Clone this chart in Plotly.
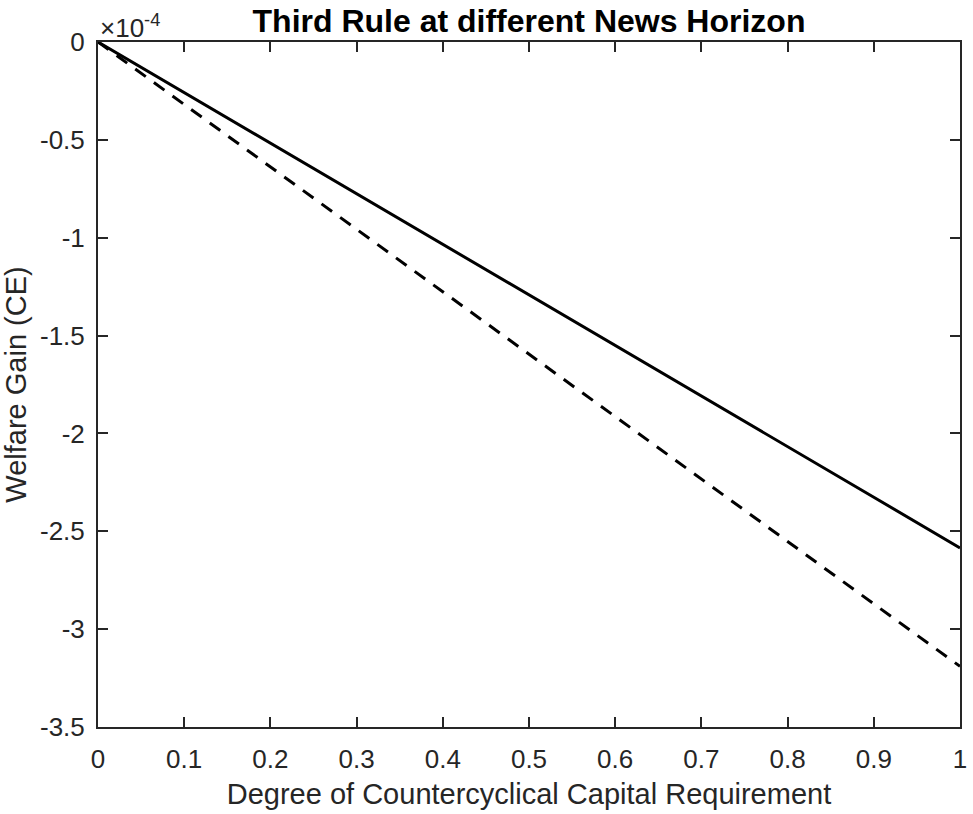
import plotly.graph_objects as go

# Degree of countercyclical capital requirement
degree = [0.0, 0.1, 0.2, 0.3, 0.4, 0.5, 0.6, 0.7, 0.8, 0.9, 1.0]
# Welfare gain (CE), in units of 1e-4
gain_solid = [0.0, -0.258, -0.517, -0.775, -1.034, -1.292, -1.551, -1.809, -2.068, -2.326, -2.585]
gain_dashed = [0.0, -0.319, -0.638, -0.957, -1.276, -1.595, -1.914, -2.233, -2.552, -2.871, -3.19]

x_ticks = [0, 0.1, 0.2, 0.3, 0.4, 0.5, 0.6, 0.7, 0.8, 0.9, 1]
x_tick_text = ["0", "0.1", "0.2", "0.3", "0.4", "0.5", "0.6", "0.7", "0.8", "0.9", "1"]
y_ticks = [0, -0.5, -1, -1.5, -2, -2.5, -3, -3.5]
y_tick_text = ["0", "-0.5", "-1", "-1.5", "-2", "-2.5", "-3", "-3.5"]

txt = "#262626"
font_family = "Arial, 'Liberation Sans', Helvetica, sans-serif"

fig = go.Figure()
fig.add_trace(go.Scatter(x=degree, y=gain_solid, mode="lines",
                         line=dict(color="black", width=3), showlegend=False))
fig.add_trace(go.Scatter(x=degree, y=gain_dashed, mode="lines",
                         line=dict(color="black", width=3, dash="13px,10px"), showlegend=False))

axis_common = dict(showgrid=False, zeroline=False, showline=True, linecolor=txt,
                   linewidth=2, mirror="ticks", ticks="inside", ticklen=10,
                   tickcolor=txt, tickwidth=2,
                   tickfont=dict(size=26, color=txt, family=font_family))

fig.update_xaxes(range=[0, 1], tickvals=x_ticks, ticktext=x_tick_text,
                 ticklabelstandoff=8,
                 title=dict(text="Degree of Countercyclical Capital Requirement",
                            font=dict(size=29, color=txt, family=font_family), standoff=10),
                 **axis_common)
fig.update_yaxes(range=[-3.5, 0], tickvals=y_ticks, ticktext=y_tick_text,
                 ticklabelstandoff=6,
                 title=dict(text="Welfare Gain (CE)",
                            font=dict(size=29, color=txt, family=font_family), standoff=8),
                 **axis_common)

fig.add_annotation(x=0, y=1, xref="paper", yref="paper", xanchor="left", yanchor="bottom",
                   text="×10<sup>-4</sup>", showarrow=False, yshift=-3,
                   font=dict(size=26, color=txt, family=font_family))

fig.update_layout(
    width=973, height=814,
    margin=dict(l=98, r=6, t=42, b=87),
    paper_bgcolor="white", plot_bgcolor="white",
    title=dict(text="<b>Third Rule at different News Horizon</b>", x=0.5, xref="paper",
               xanchor="center", y=0.974, yref="container", yanchor="middle",
               font=dict(size=32, color="black", family=font_family)),
)

fig.write_html("out.html")
